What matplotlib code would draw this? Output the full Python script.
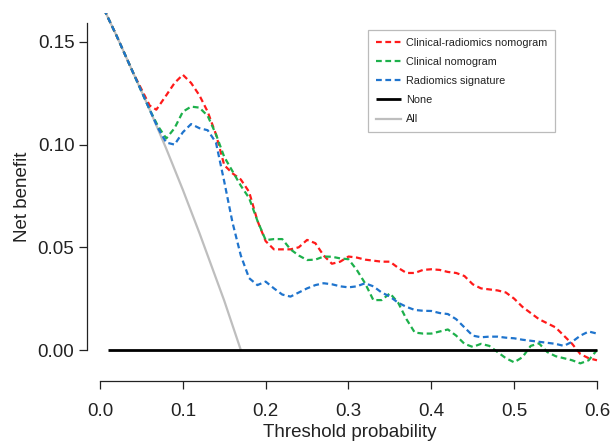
import matplotlib
matplotlib.use("Agg")
import matplotlib.pyplot as plt

# ---- data ----
all_x = [0.0, 0.02, 0.04, 0.06, 0.08, 0.10, 0.12, 0.14, 0.15, 0.17]
all_y = [0.170, 0.153, 0.135, 0.117, 0.098, 0.078, 0.057, 0.035, 0.024, 0.0]

none_x = [0.01, 0.60]
none_y = [0.0, 0.0]

cr_x = [0.0, 0.02, 0.04, 0.05, 0.06, 0.068, 0.08, 0.09, 0.10, 0.11, 0.12, 0.13, 0.14,
        0.15, 0.16, 0.17, 0.18, 0.19, 0.20, 0.21, 0.22, 0.23, 0.24, 0.25, 0.26, 0.27,
        0.28, 0.29, 0.30, 0.31, 0.32, 0.33, 0.34, 0.35, 0.36, 0.37, 0.38, 0.39, 0.40,
        0.41, 0.42, 0.43, 0.44, 0.45, 0.46, 0.47, 0.48, 0.49, 0.50, 0.51, 0.52, 0.53,
        0.54, 0.55, 0.56, 0.57, 0.58, 0.59, 0.60]
cr_y = [0.170, 0.153, 0.135, 0.127, 0.119, 0.117, 0.124, 0.130, 0.134, 0.130, 0.124, 0.116, 0.105,
        0.090, 0.086, 0.083, 0.077, 0.063, 0.053, 0.049, 0.049, 0.049, 0.050, 0.0536, 0.052, 0.046,
        0.042, 0.043, 0.0455, 0.045, 0.044, 0.0435, 0.043, 0.043, 0.040, 0.0375, 0.0375, 0.039, 0.0393,
        0.039, 0.038, 0.0375, 0.036, 0.032, 0.030, 0.0295, 0.029, 0.028, 0.025, 0.021, 0.018, 0.015,
        0.013, 0.011, 0.007, 0.003, -0.002, -0.004, -0.005]

cn_x = [0.0, 0.02, 0.04, 0.06, 0.07, 0.08, 0.09, 0.10, 0.11, 0.12, 0.13, 0.14,
        0.15, 0.16, 0.17, 0.18, 0.19, 0.20, 0.21, 0.22, 0.23, 0.24, 0.25, 0.26, 0.27,
        0.28, 0.29, 0.30, 0.31, 0.32, 0.33, 0.34, 0.35, 0.36, 0.37, 0.38, 0.39, 0.40,
        0.41, 0.42, 0.43, 0.44, 0.45, 0.46, 0.47, 0.48, 0.49, 0.50, 0.51, 0.52, 0.53,
        0.54, 0.55, 0.56, 0.57, 0.58, 0.59, 0.60]
cn_y = [0.170, 0.153, 0.135, 0.117, 0.109, 0.103, 0.108, 0.116, 0.1185, 0.118, 0.114, 0.105,
        0.094, 0.087, 0.080, 0.074, 0.063, 0.0535, 0.054, 0.054, 0.049, 0.046, 0.0438, 0.044, 0.0455,
        0.0454, 0.0446, 0.0442, 0.039, 0.0325, 0.0243, 0.0243, 0.0276, 0.023, 0.015, 0.0085, 0.008, 0.008,
        0.009, 0.010, 0.007, 0.003, 0.0015, 0.003, 0.002, -0.001, -0.004, -0.006, -0.0035, 0.002, 0.0032,
        -0.001, -0.003, -0.004, -0.005, -0.0065, -0.005, 0.0]

rs_x = [0.0, 0.02, 0.04, 0.06, 0.07, 0.08, 0.09, 0.10, 0.11, 0.12, 0.13, 0.14,
        0.15, 0.16, 0.17, 0.18, 0.19, 0.20, 0.21, 0.22, 0.23, 0.24, 0.25, 0.26, 0.27,
        0.28, 0.29, 0.30, 0.31, 0.32, 0.33, 0.34, 0.35, 0.36, 0.37, 0.38, 0.39, 0.40,
        0.41, 0.42, 0.43, 0.44, 0.45, 0.46, 0.47, 0.48, 0.49, 0.50, 0.51, 0.52, 0.53,
        0.54, 0.55, 0.56, 0.57, 0.58, 0.59, 0.60]
rs_y = [0.170, 0.153, 0.135, 0.117, 0.108, 0.101, 0.100, 0.106, 0.110, 0.108, 0.107, 0.101,
        0.082, 0.062, 0.046, 0.035, 0.0316, 0.0333, 0.030, 0.027, 0.026, 0.028, 0.030, 0.0316, 0.0325,
        0.032, 0.031, 0.0305, 0.031, 0.0325, 0.031, 0.028, 0.026, 0.023, 0.021, 0.0195, 0.0191, 0.019,
        0.018, 0.0175, 0.015, 0.011, 0.007, 0.0062, 0.0065, 0.0065, 0.006, 0.0057, 0.005, 0.0045, 0.004,
        0.0035, 0.003, 0.002, 0.004, 0.007, 0.009, 0.008]

x_ticks = [0.0, 0.1, 0.2, 0.3, 0.4, 0.5, 0.6]
x_ticklabels = ["0.0", "0.1", "0.2", "0.3", "0.4", "0.5", "0.6"]
y_ticks = [0.00, 0.05, 0.10, 0.15]
y_ticklabels = ["0.00", "0.05", "0.10", "0.15"]

labels = ["Clinical-radiomics nomogram", "Clinical nomogram", "Radiomics signature", "None", "All"]

# ---- figure ----
plt.rcParams['font.family'] = ['Liberation Sans', 'DejaVu Sans']
W, H = 612, 444
fig = plt.figure(figsize=(W / 100, H / 100), dpi=100)

left_px, right_px, bottom_px, top_px = 87, 612, 381, 13
ax = fig.add_axes([left_px / W, (H - bottom_px) / H,
                   (right_px - left_px) / W, (bottom_px - top_px) / H])

x0_px, xscale = 100, 828.3
y0_px, yscale = 350, 2054.0
ax.set_xlim((left_px - x0_px) / xscale, (right_px - x0_px) / xscale)
ax.set_ylim((y0_px - bottom_px) / yscale, (y0_px - top_px) / yscale)

dash = (2.6, 1.6)
lw = 1.6
l1, = ax.plot(cr_x, cr_y, color='#FF1A1A', lw=lw, dashes=dash)
l2, = ax.plot(cn_x, cn_y, color='#1DB04B', lw=lw, dashes=dash)
l3, = ax.plot(rs_x, rs_y, color='#1F74CD', lw=lw, dashes=dash)
l4, = ax.plot(none_x, none_y, color='black', lw=2.0, solid_capstyle='butt')
l5, = ax.plot(all_x, all_y, color='#BEBEBE', lw=1.6)
l5.set_zorder(1.5)

for s in ['top', 'right']:
    ax.spines[s].set_visible(False)
ax.spines['left'].set_bounds(0.0, 0.159)
ax.spines['bottom'].set_bounds(0.0, 0.6)
for s in ['left', 'bottom']:
    ax.spines[s].set_linewidth(0.9)
    ax.spines[s].set_color('#222222')

ax.set_xticks(x_ticks)
ax.set_xticklabels(x_ticklabels)
ax.set_yticks(y_ticks)
ax.set_yticklabels(y_ticklabels)
ax.tick_params(axis='both', direction='out', length=6, width=0.9, color='#222222',
               labelsize=13.5, labelcolor='#222222')
ax.tick_params(axis='x', pad=10)
ax.tick_params(axis='y', pad=3)

ax.set_xlabel("Threshold probability", fontsize=13.5, color='#222222', labelpad=3)
ax.set_ylabel("Net benefit", fontsize=13.5, color='#222222', labelpad=5)

leg = fig.legend([l1, l2, l3, l4, l5], labels, loc='upper left',
                 bbox_to_anchor=(368 / W, 1 - 30 / H), fontsize=7.8,
                 frameon=True, fancybox=False, edgecolor='#BBBBBB', framealpha=1,
                 handlelength=2.3, handletextpad=0.5, labelspacing=0.85,
                 borderpad=0.7, borderaxespad=0)
leg.get_frame().set_linewidth(0.9)
for t in leg.get_texts():
    t.set_color('#222222')

fig.savefig("out.png", dpi=100)
